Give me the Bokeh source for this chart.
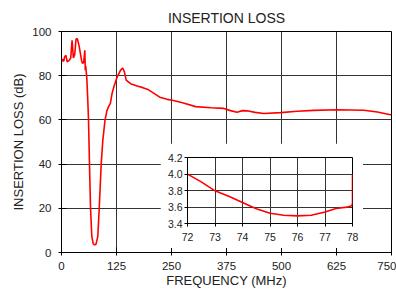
from bokeh.plotting import figure
from bokeh.models import Range1d, FixedTicker, PrintfTickFormatter
from bokeh.embed import file_html
from bokeh.resources import INLINE

# ---- data ----
freq_mhz = [0, 2, 5, 7, 10, 13, 17, 21, 24, 27, 30, 33, 36, 40, 43, 46, 48, 50.5,
            53, 54, 55, 57.5, 59.5, 61.4, 63.6, 66, 68.9, 72, 74, 76, 78, 80, 82.5,
            85.7, 88, 90.2, 94, 99, 103, 107, 111, 115, 119, 126.5, 134, 139, 143,
            147, 157, 172, 185, 198, 212, 225, 240, 252, 275, 305, 340, 369, 384,
            399, 411, 422, 440, 460, 498, 536, 573, 627, 687, 718, 750]
loss_db = [86.2, 87.5, 86.5, 88.5, 89.2, 86.3, 86.8, 88.0, 96.0, 88.0, 89.5, 96.5,
           96.8, 93.5, 90.0, 86.5, 85.6, 86.0, 91.5, 82.5, 84.5, 79.0, 70.0, 60.0,
           40.0, 20.0, 7.3, 4.0, 3.65, 3.5, 3.6, 5.0, 7.3,
           19.8, 30.0, 40.0, 51.0, 60.0, 64.0, 66.0, 67.5, 72.0, 75.0, 79.4, 82.4,
           83.5, 81.7, 78.0, 76.4, 75.3, 74.6, 73.6, 71.8, 70.1, 69.3, 68.9, 67.8,
           66.0, 65.5, 65.2, 64.2, 63.5, 64.2, 64.1, 63.4, 62.9, 63.3, 63.9, 64.3,
           64.6, 64.4, 63.6, 62.2]

inset_freq = [72, 72.5, 73, 73.5, 74, 74.5, 75, 75.5, 76, 76.5, 77, 77.4, 77.8,
              77.97, 78.0, 78.0]
inset_loss = [3.998, 3.905, 3.796, 3.73, 3.655, 3.578, 3.525, 3.5, 3.493, 3.5,
              3.54, 3.582, 3.598, 3.615, 3.64, 4.0]

x_ticks = [0, 125, 250, 375, 500, 625, 750]
y_ticks = [0, 20, 40, 60, 80, 100]
inset_x_ticks = [72, 73, 74, 75, 76, 77, 78]
inset_y_ticks = [3.4, 3.6, 3.8, 4.0, 4.2]

FONT = "Liberation Sans"
TXT = "#222222"
GRID = "#333333"

# ---- main figure ----
p = figure(width=396, height=290, output_backend="svg", toolbar_location=None,
           x_range=Range1d(0, 750), y_range=Range1d(0, 100),
           min_border_left=61, min_border_right=5, min_border_top=31,
           min_border_bottom=37)
p.title.text = "INSERTION LOSS"
p.title.align = "center"
p.title.text_font = FONT
p.title.text_font_size = "14px"
p.title.text_font_style = "normal"
p.title.text_color = TXT
p.title.standoff = 11

p.outline_line_color = "black"
p.outline_line_width = 1
p.background_fill_color = "white"
p.border_fill_color = "white"

p.xaxis.ticker = FixedTicker(ticks=x_ticks)
p.yaxis.ticker = FixedTicker(ticks=y_ticks)
for ax in (p.xaxis, p.yaxis):
    ax.axis_line_color = "black"
    ax.major_tick_line_color = "black"
    ax.major_tick_in = 5
    ax.major_tick_out = 3
    ax.minor_tick_line_color = None
    ax.major_label_text_font = FONT
    ax.major_label_text_font_size = "11.5px"
    ax.major_label_text_color = TXT
    ax.axis_label_text_font = FONT
    ax.axis_label_text_font_size = "13px"
    ax.axis_label_text_font_style = "normal"
    ax.axis_label_text_color = TXT
p.xaxis.axis_label = "FREQUENCY (MHz)"
p.yaxis.axis_label = "INSERTION LOSS (dB)"
p.xaxis.major_label_standoff = 6
p.xaxis.axis_label_standoff = 0
p.yaxis.major_label_standoff = 7
p.yaxis.axis_label_standoff = 3

p.xgrid.ticker = FixedTicker(ticks=x_ticks)
p.ygrid.ticker = FixedTicker(ticks=y_ticks)
p.grid.grid_line_color = GRID
p.grid.grid_line_width = 1

p.line(freq_mhz, loss_db, line_color="#ff0000", line_width=1.6)

# ---- inset figure ----
q = figure(width=203, height=105, output_backend="svg", toolbar_location=None,
           x_range=Range1d(72, 78), y_range=Range1d(3.4, 4.2),
           min_border_left=27, min_border_right=11, min_border_top=14,
           min_border_bottom=25)
q.outline_line_color = "black"
q.background_fill_color = "white"
q.border_fill_color = "white"
q.xaxis.ticker = FixedTicker(ticks=inset_x_ticks)
q.yaxis.ticker = FixedTicker(ticks=inset_y_ticks)
q.xgrid.ticker = FixedTicker(ticks=inset_x_ticks)
q.ygrid.ticker = FixedTicker(ticks=inset_y_ticks)
q.yaxis.formatter = PrintfTickFormatter(format="%.1f")
for ax in (q.xaxis, q.yaxis):
    ax.axis_line_color = "black"
    ax.major_tick_line_color = "black"
    ax.major_tick_in = 0
    ax.major_tick_out = 3
    ax.minor_tick_line_color = None
    ax.major_label_text_font = FONT
    ax.major_label_text_font_size = "10.5px"
    ax.major_label_text_color = TXT
q.xaxis.major_label_standoff = 6
q.yaxis.major_label_standoff = 2
q.grid.grid_line_color = GRID
q.grid.grid_line_width = 1
q.line(inset_freq, inset_loss, line_color="#ff0000", line_width=1.6)

q.styles = {"position": "absolute", "left": "160px", "top": "143px", "z-index": "10"}

open("out.html", "w").write(file_html([p, q], INLINE))
